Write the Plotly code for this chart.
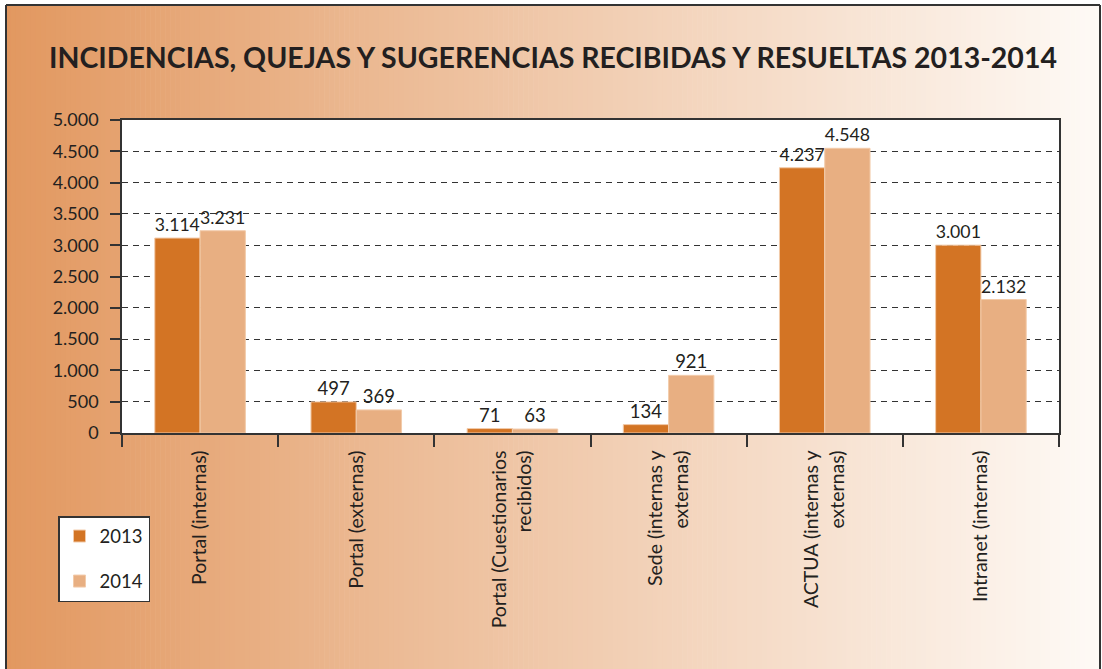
import plotly.graph_objects as go

# Data
categories = [
    "Portal (internas)",
    "Portal (externas)",
    "Portal (Cuestionarios<br>recibidos)",
    "Sede (internas y<br>externas)",
    "ACTUA (internas y<br>externas)",
    "Intranet (internas)",
]
values_2013 = [3114, 497, 71, 134, 4237, 3001]
values_2014 = [3231, 369, 63, 921, 4548, 2132]
y_ticks = [0, 500, 1000, 1500, 2000, 2500, 3000, 3500, 4000, 4500, 5000]

W, H = 1102, 669
PL, PR, PT, PB = 122, 1059, 120, 433  # plot area in pixels
FONT = "Lato, 'Open Sans', sans-serif"
INK = "#231F20"


def px_x(x):
    return (x - PL) / (PR - PL)


def px_y(y):
    return (PB - y) / (PB - PT)


fig = go.Figure()
fig.add_trace(go.Bar(
    name="2013", x=categories, y=values_2013,
    marker=dict(color="#D37424", line=dict(color="#F2CBAA", width=1)),
    text=values_2013, texttemplate="%{y:,d}", textposition="outside",
    textfont=dict(size=18.5, color=INK, family=FONT), cliponaxis=False,
    legendgroup="a",
))
fig.add_trace(go.Bar(
    name="2014", x=categories, y=values_2014,
    marker=dict(color="#E8AF82", line=dict(color="#F2CBAA", width=1)),
    text=values_2014, texttemplate="%{y:,d}", textposition="outside",
    textfont=dict(size=18.5, color=INK, family=FONT), cliponaxis=False,
    legendgroup="b",
))

# Horizontal gradient background inside the frame
shapes = []
c0 = (226, 152, 96)
c1 = (254, 250, 246)
x_left, x_right = 6, 1100
n = 220
step = (x_right - x_left) / n
for i in range(n):
    t = (i + 0.5) / n
    col = tuple(round(a + (b - a) * t) for a, b in zip(c0, c1))
    xa = x_left + i * step
    xb = xa + step + 0.6
    shapes.append(dict(
        type="rect", xref="paper", yref="paper", layer="below",
        x0=px_x(xa), x1=px_x(min(xb, x_right)), y0=px_y(H + 2), y1=px_y(5),
        fillcolor="rgb(%d,%d,%d)" % col, line=dict(width=0),
    ))
# white plotting area
shapes.append(dict(
    type="rect", xref="paper", yref="paper", layer="below",
    x0=0, x1=1, y0=0, y1=1, fillcolor="white", line=dict(width=0),
))
# outer frame lines (top, left, right)
frame = dict(color="#333333", width=2)
shapes.append(dict(type="line", xref="paper", yref="paper",
                   x0=px_x(x_left), x1=px_x(x_right), y0=px_y(5), y1=px_y(5), line=frame))
shapes.append(dict(type="line", xref="paper", yref="paper",
                   x0=px_x(x_left), x1=px_x(x_left), y0=px_y(5), y1=px_y(H + 2), line=frame))
shapes.append(dict(type="line", xref="paper", yref="paper",
                   x0=px_x(x_right), x1=px_x(x_right), y0=px_y(5), y1=px_y(H + 2), line=frame))

fig.update_layout(
    width=W, height=H,
    margin=dict(l=PL, r=W - PR, t=PT, b=H - PB, pad=0),
    paper_bgcolor="white", plot_bgcolor="rgba(0,0,0,0)",
    separators=",.",
    font=dict(family=FONT, color=INK, size=18),
    barmode="group", bargap=0.42, bargroupgap=0,
    shapes=shapes,
    title=dict(
        text="<b>INCIDENCIAS, QUEJAS Y SUGERENCIAS RECIBIDAS Y RESUELTAS 2013-2014</b>",
        x=px_x(553), xref="paper", xanchor="center",
        y=1 - 58 / H, yref="container", yanchor="middle",
        font=dict(size=28.5, color=INK, family=FONT),
    ),
    legend=dict(
        x=px_x(58), y=px_y(516), xanchor="left", yanchor="top",
        bgcolor="white", bordercolor="#333333", borderwidth=1.5,
        font=dict(size=18.5, color=INK, family=FONT),
        traceorder="grouped", tracegroupgap=18,
    ),
    xaxis=dict(
        tickangle=-90, tickson="boundaries", ticks="outside", ticklen=12,
        tickcolor="#333333", tickwidth=1.5,
        showline=True, linecolor="#333333", linewidth=1.5, mirror=True,
        tickfont=dict(size=19.5, color=INK, family=FONT),
        ticklabelstandoff=8,
    ),
    yaxis=dict(
        range=[0, 5000], tickvals=y_ticks, tickformat=",d",
        ticks="outside", ticklen=10, tickcolor="#333333", tickwidth=1.5,
        showline=True, linecolor="#333333", linewidth=1.5, mirror=True,
        showgrid=True, gridcolor="#333333", gridwidth=1, griddash="6px,5px",
        zeroline=False,
        tickfont=dict(size=18, color=INK, family=FONT),
        ticklabelstandoff=8,
    ),
)

fig.write_html("out.html")
